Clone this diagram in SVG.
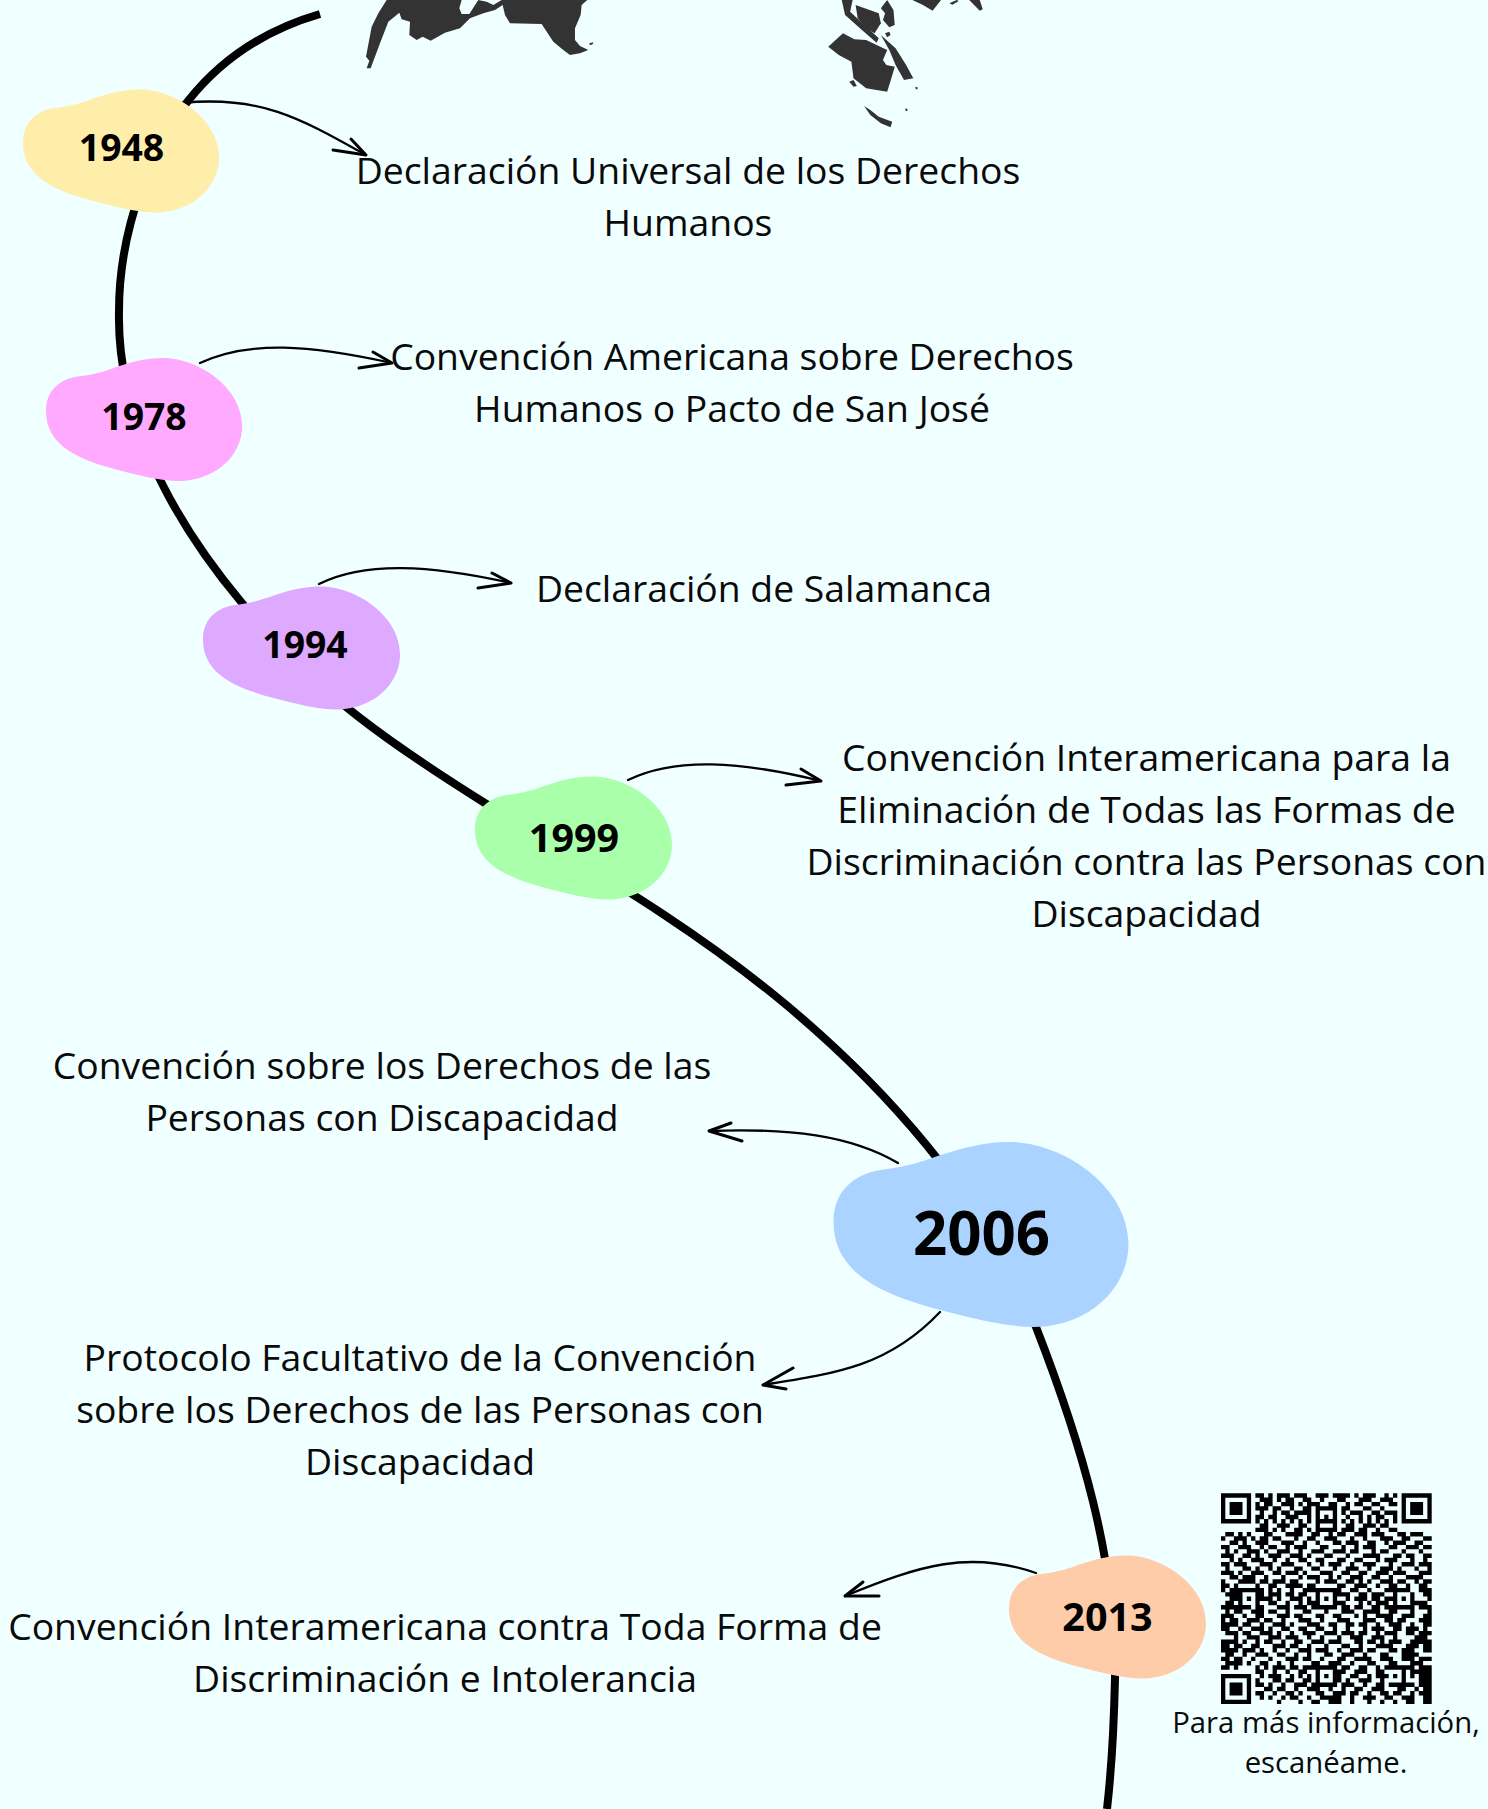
<svg xmlns="http://www.w3.org/2000/svg" width="1488" height="1809" viewBox="0 0 1488 1809">
<style>
text{font-family:"Open Sans","Noto Sans","DejaVu Sans",sans-serif;fill:#0a0a0a;text-anchor:middle}
.t{font-size:37.33px}
.y{font-size:37.33px;font-weight:700;fill:#000}
.w{font-size:39.5px}
.c{font-size:29.3px}
.spine{fill:none;stroke:#000;stroke-width:8}
.arrow{fill:none;stroke:#000;stroke-width:2.3;stroke-linecap:round;stroke-linejoin:round}
.head{fill:none;stroke:#000;stroke-width:3;stroke-linecap:round;stroke-linejoin:round}
</style>
<defs>
<path id="blob" d="M0 80C0 52 17 33 47 28C77 24 87 20 107 13C130 6 150 0 175 0C230 0 295 45 295 102C295 148 253 185 200 185C173 185 133 175 107 168C50 153 0 132 0 80Z"/>
</defs>
<rect width="1488" height="1809" fill="#f0ffff"/>
<g id="map" fill="#333">
<g transform="translate(350 0) scale(.3333)">
<path d="M110 0L85 40L65 80L48 170L58 182L50 205L62 205L90 130L115 65L148 38L155 58L180 65L178 105L200 120L218 110L242 122L285 98L330 85L360 55L400 40L435 30L458 15L465 45L480 70L575 72L610 125L640 150L660 165L690 160L715 150L690 138L675 120L675 85L692 45L695 15L712 0L455 0L430 15L410 5L385 0L358 42L335 42L328 25L335 0Z"/>
<path d="M718 130L730 127L728 133L720 136Z"/>
</g>
<g transform="translate(340 0) scale(.4209 .3333)">
<path d="M1195 100L1160 140L1185 165L1215 185L1220 235L1250 265L1300 275L1310 235L1318 200L1298 195L1290 180L1300 150L1275 135L1250 120L1222 118Z"/>
<path d="M1192 0L1218 0L1212 35L1280 115L1275 128L1240 90L1200 45Z"/>
<path d="M1225 15L1280 40L1285 70L1270 100L1250 85L1230 55Z"/>
<path d="M1300 0L1315 30L1318 75L1305 82L1290 60L1295 40L1285 25Z"/>
<path d="M1285 105L1320 145L1345 195L1362 235L1340 240L1320 195L1305 150Z"/>
<path d="M1295 100L1305 95L1308 105L1300 112Z"/>
<path d="M1210 245L1220 240L1228 258L1220 260Z"/>
<path d="M1245 318L1260 330L1280 350L1312 365L1308 382L1285 370L1260 345Z"/>
<path d="M1367 260L1372 262L1372 268L1368 268Z"/>
<path d="M1343 325L1348 327L1348 333L1344 333Z"/>
<path d="M1360 0L1428 0L1408 32L1385 15Z"/>
<path d="M1448 10L1465 0L1470 3L1455 14Z"/>
<path d="M1495 0L1520 0L1527 28L1520 32Z"/>
</g>
</g>
<g id="connectors">
<path class="spine" d="M320 14C265 30 222 58 188 101C155 142 119 225 119 311C117 405 160 505 242 603C310 690 400 750 488 805C590 868 690 925 784 1003C880 1083 985 1195 1036 1327C1080 1440 1117 1560 1115 1678C1114 1725 1112 1765 1107 1809"/>
<path class="arrow" d="M182 103C260 95 300 118 366 155"/><path class="head" d="M351 139L366 155L333 150"/>
<path class="arrow" d="M200 363C250 340 310 345 392 363"/><path class="head" d="M373 352L392 363L359 368"/>
<path class="arrow" d="M319 584C365 561 430 565 511 583"/><path class="head" d="M492 573L511 583L478 588"/>
<path class="arrow" d="M628 780C675 757 740 761 821 781"/><path class="head" d="M801 769L821 781L786 785"/>
<path class="arrow" d="M898 1163C850 1135 790 1128 709 1131"/><path class="head" d="M731 1123L709 1131L742 1141"/>
<path class="arrow" d="M940 1312C890 1365 840 1373 763 1385"/><path class="head" d="M793 1368L763 1385L786 1389"/>
<path class="arrow" d="M1036 1573C970 1550 920 1565 845 1596"/><path class="head" d="M863 1582L845 1596L879 1596"/>
</g>
<g id="node-1948"><use href="#blob" fill="#ffeeaa" transform="translate(23 89.5) scale(.665 .665)"/><text class="y" x="121.5" y="161">1948</text></g>
<g id="node-1978"><use href="#blob" fill="#ffaaff" transform="translate(46 358) scale(.665 .665)"/><text class="y" x="144" y="430">1978</text></g>
<g id="node-1994"><use href="#blob" fill="#ddaaff" transform="translate(203 586.5) scale(.668 .665)"/><text class="y" x="305" y="658">1994</text></g>
<g id="node-1999"><use href="#blob" fill="#aaffaa" transform="translate(475 776.5) scale(.668 .665)"/><text class="y w" x="574" y="851.5">1999</text></g>
<g id="node-2006"><use href="#blob" fill="#aad4ff" transform="translate(833.5 1142)"/><text class="y" style="font-size:60px" x="981.5" y="1254.5">2006</text></g>
<g id="node-2013"><use href="#blob" fill="#ffccaa" transform="translate(1009 1555.5) scale(.668 .665)"/><text class="y w" x="1107.5" y="1631">2013</text></g>
<g id="labels">
<text class="t" x="688" y="184">Declaración Universal de los Derechos</text>
<text class="t" x="688" y="236">Humanos</text>
<text class="t" x="732" y="370">Convención Americana sobre Derechos</text>
<text class="t" x="732" y="422">Humanos o Pacto de San José</text>
<text class="t" x="764" y="602">Declaración de Salamanca</text>
<text class="t" x="1146.5" y="771">Convención Interamericana para la</text>
<text class="t" x="1146.5" y="823">Eliminación de Todas las Formas de</text>
<text class="t" x="1146.5" y="875">Discriminación contra las Personas con</text>
<text class="t" x="1146.5" y="927">Discapacidad</text>
<text class="t" x="382" y="1079">Convención sobre los Derechos de las</text>
<text class="t" x="382" y="1131">Personas con Discapacidad</text>
<text class="t" x="420" y="1371">Protocolo Facultativo de la Convención</text>
<text class="t" x="420" y="1423">sobre los Derechos de las Personas con</text>
<text class="t" x="420" y="1475">Discapacidad</text>
<text class="t" x="445" y="1640">Convención Interamericana contra Toda Forma de</text>
<text class="t" x="445" y="1692">Discriminación e Intolerancia</text>
<text class="c" x="1326" y="1733">Para más información,</text>
<text class="c" x="1326" y="1773">escanéame.</text>
</g>
<g id="qr" transform="translate(1221 1495.5) scale(4.3)">
<path fill="none" stroke="#000" stroke-width="1.02" d="M0 0h7M42 0h7M0 1h1M6 1h1M42 1h1M48 1h1M0 2h1M2 2h3M6 2h1M42 2h1M44 2h3M48 2h1M0 3h1M2 3h3M6 3h1M42 3h1M44 3h3M48 3h1M0 4h1M2 4h3M6 4h1M42 4h1M44 4h3M48 4h1M0 5h1M6 5h1M42 5h1M48 5h1M0 6h7M42 6h7M0 43h1M6 43h1M0 44h1M2 44h3M6 44h1M0 45h1M2 45h3M6 45h1M0 46h1M2 46h3M6 46h1M0 47h1M6 47h1M0 48h7M0 42h7
M8 0h2M11 0h1M13 0h3M17 0h3M22 0h3M26 0h4M31 0h1M33 0h3M38 0h1M40 0h1
M9 1h3M13 1h1M15 1h2M19 1h2M23 1h1M27 1h2M32 1h3M37 1h3
M8 2h1M10 2h2M14 2h3M18 2h1M20 2h3M25 2h2M29 2h1M31 2h2M35 2h2M39 2h2
M8 3h3M12 3h2M16 3h1M19 3h2M22 3h5M28 3h2M33 3h2M37 3h1
M9 4h1M12 4h1M14 4h2M17 4h4M22 4h1M26 4h1M28 4h1M30 4h3M35 4h2M38 4h3
M8 5h2M11 5h2M15 5h3M20 5h1M22 5h1M24 5h1M26 5h1M29 5h1M32 5h1M34 5h1M36 5h2M40 5h1
M8 6h1M10 6h1M12 6h1M14 6h1M16 6h1M18 6h1M20 6h1M22 6h5M28 6h1M30 6h1M32 6h1M34 6h1M36 6h1M38 6h1M40 6h1
M9 7h2M13 7h3M18 7h2M22 7h1M26 7h1M29 7h2M33 7h3M37 7h2
M8 8h3M12 8h1M14 8h1M17 8h2M20 8h1M22 8h5M28 8h3M32 8h2M36 8h1M39 8h2
M1 9h2M4 9h1M6 9h1M10 9h2M15 9h4M21 9h2M25 9h1M27 9h2M31 9h3M35 9h3M41 9h2M44 9h3
M0 10h1M3 10h3M7 10h1M9 10h2M12 10h2M17 10h1M20 10h2M24 10h3M30 10h1M33 10h1M37 10h3M42 10h2M47 10h2
M2 11h2M5 11h1M8 11h3M14 11h3M19 11h1M22 11h1M26 11h2M29 11h3M34 11h2M38 11h1M40 11h3M45 11h2
M0 12h2M4 12h3M9 12h1M11 12h2M15 12h1M17 12h3M23 12h2M28 12h1M31 12h1M33 12h3M39 12h2M43 12h3M47 12h2
M1 13h1M3 13h1M6 13h3M10 13h1M13 13h3M18 13h1M21 13h3M26 13h3M30 13h2M35 13h1M37 13h2M42 13h1M46 13h1
M0 14h3M5 14h2M8 14h1M11 14h3M16 14h3M20 14h1M24 14h2M29 14h1M33 14h4M40 14h2M43 14h2M47 14h2
M2 15h1M4 15h1M7 15h3M12 15h1M15 15h1M18 15h2M22 15h2M27 15h2M31 15h2M36 15h1M38 15h3M44 15h1M47 15h1
M0 16h2M3 16h3M9 16h3M14 16h3M20 16h1M23 16h1M25 16h3M30 16h1M33 16h3M39 16h1M42 16h3M46 16h3
M1 17h1M5 17h2M8 17h1M11 17h1M13 17h1M17 17h2M21 17h2M26 17h1M29 17h3M34 17h1M37 17h3M41 17h1M45 17h1M48 17h1
M0 18h3M4 18h1M7 18h3M12 18h2M15 18h3M19 18h1M23 18h3M28 18h2M32 18h2M36 18h3M40 18h3M46 18h3
M2 19h2M5 19h3M10 19h1M14 19h1M18 19h1M20 19h3M25 19h1M27 19h1M30 19h3M35 19h2M39 19h1M43 19h4
M0 20h1M4 20h4M9 20h2M12 20h3M16 20h2M22 20h1M24 20h3M29 20h2M32 20h1M34 20h1M37 20h3M41 20h2M45 20h1M47 20h2
M0 21h2M3 21h1M8 21h1M11 21h2M15 21h4M20 21h2M27 21h2M31 21h3M36 21h1M39 21h2M43 21h1M46 21h2
M0 22h1M2 22h8M11 22h1M13 22h1M16 22h1M19 22h9M30 22h2M34 22h1M38 22h6M46 22h3
M1 23h3M4 23h1M8 23h2M11 23h3M15 23h2M18 23h2M22 23h1M26 23h4M32 23h2M35 23h3M40 23h1M44 23h1M47 23h2
M2 24h2M4 24h1M6 24h1M8 24h4M13 24h1M16 24h3M20 24h1M22 24h1M24 24h1M26 24h1M29 24h1M31 24h3M35 24h2M38 24h2M40 24h1M42 24h1M44 24h1M48 24h1
M1 25h2M4 25h1M8 25h1M11 25h2M15 25h1M18 25h1M20 25h3M26 25h3M32 25h1M34 25h1M36 25h3M40 25h1M44 25h4
M0 26h7M8 26h2M13 26h3M17 26h3M21 26h6M28 26h2M31 26h2M35 26h2M38 26h7M46 26h3
M1 27h1M3 27h2M7 27h3M11 27h2M15 27h1M19 27h2M24 27h1M28 27h3M33 27h4M39 27h2M44 27h1M48 27h1
M0 28h3M5 28h1M8 28h2M13 28h3M17 28h2M22 28h2M26 28h2M31 28h1M33 28h1M36 28h4M42 28h3M47 28h2
M0 29h1M2 29h2M6 29h3M10 29h2M14 29h1M18 29h3M23 29h1M27 29h3M33 29h3M38 29h2M41 29h2M46 29h3
M0 30h4M5 30h2M9 30h1M12 30h3M16 30h1M20 30h3M25 30h2M29 30h2M32 30h2M36 30h1M39 30h3M44 30h1M47 30h2
M0 31h2M4 31h1M7 31h3M11 31h1M14 31h2M18 31h2M22 31h2M26 31h1M29 31h1M33 31h1M35 31h3M40 31h2M43 31h3M47 31h1
M1 32h3M5 32h2M9 32h3M13 32h1M16 32h1M19 32h3M24 32h3M28 32h3M32 32h2M36 32h1M38 32h3M43 32h2M46 32h3
M3 33h1M6 33h3M11 33h3M15 33h3M20 33h1M23 33h1M27 33h1M30 33h3M35 33h3M40 33h1M45 33h3
M0 34h4M5 34h1M8 34h1M10 34h2M14 34h1M17 34h2M21 34h3M25 34h3M31 34h2M34 34h2M37 34h1M39 34h3M44 34h5
M0 35h2M3 35h2M7 35h2M12 35h3M16 35h2M20 35h1M24 35h1M28 35h2M32 35h1M36 35h4M43 35h3M47 35h2
M0 36h4M5 36h3M9 36h1M12 36h1M15 36h1M18 36h3M22 36h3M27 36h1M30 36h3M34 36h2M39 36h2M42 36h3M47 36h2
M1 37h2M5 37h1M8 37h3M13 37h2M17 37h1M20 37h1M24 37h2M28 37h3M33 37h1M37 37h2M42 37h4
M0 38h2M3 38h2M7 38h1M11 38h1M15 38h3M19 38h2M23 38h1M27 38h2M31 38h4M37 38h3M42 38h3M46 38h3
M1 39h4M6 39h1M9 39h2M13 39h1M16 39h1M21 39h2M25 39h3M30 39h1M34 39h2M39 39h2M44 39h3
M0 40h2M3 40h1M8 40h1M10 40h1M12 40h3M16 40h2M19 40h8M28 40h2M32 40h2M36 40h1M38 40h7M46 40h3
M8 41h2M12 41h1M15 41h1M18 41h2M22 41h1M26 41h3M31 41h3M36 41h2M42 41h1M44 41h5
M9 42h1M11 42h3M16 42h1M18 42h1M20 42h1M22 42h1M24 42h1M26 42h2M30 42h2M34 42h1M36 42h3M40 42h1M42 42h1M44 42h1M46 42h3
M8 43h1M12 43h2M15 43h2M19 43h2M22 43h1M26 43h2M29 43h1M32 43h3M37 43h1M42 43h1M46 43h3
M8 44h2M11 44h1M14 44h1M17 44h3M21 44h6M28 44h3M33 44h1M36 44h2M39 44h6M46 44h3
M10 45h2M13 45h2M17 45h1M20 45h3M25 45h1M28 45h1M31 45h2M35 45h3M41 45h2M45 45h1M47 45h2
M8 46h2M12 46h1M15 46h2M18 46h1M22 46h2M26 46h3M30 46h2M34 46h1M37 46h2M40 46h2M44 46h1M46 46h3
M9 47h1M11 47h1M14 47h1M16 47h2M20 47h1M23 47h5M30 47h1M33 47h3M38 47h2M42 47h3M47 47h2
M13 48h1M18 48h1M21 48h2M25 48h3M30 48h1M34 48h1M37 48h1M40 48h1M43 48h2M47 48h2"/>
</g>
</svg>
